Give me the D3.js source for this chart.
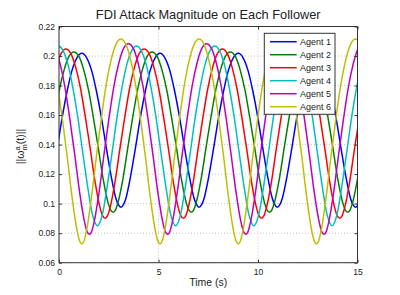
<!DOCTYPE html>
<meta charset="utf-8">
<style>
  body { margin: 0; background: #fff; }
  text { font-family: "Liberation Sans", Arial, sans-serif; fill: #222; }
</style>

<!-- Load d3.js -->
<script src="https://d3js.org/d3.v7.min.js"></script>

<div id="my_dataviz"></div>

<script>
// series names and colours (MATLAB default line order)
var agents = ["Agent 1", "Agent 2", "Agent 3", "Agent 4", "Agent 5", "Agent 6"];
var colors = ["#0000ff", "#008000", "#ff0000", "#00bfbf", "#bf00bf", "#bfbf00"];

var xTicks = [0, 5, 10, 15];
var yTicks = [0.06, 0.08, 0.1, 0.12, 0.14, 0.16, 0.18, 0.2, 0.22];
var yTickLabels = ["0.06", "0.08", "0.1", "0.12", "0.14", "0.16", "0.18", "0.2", "0.22"];

// [time (s), magnitude]
var agent1 = [[-0.33,.1187],[-0.08,.1384],[0.16,.1585],[0.41,.1763],[0.65,.1901],[0.90,.1988],[1.15,.2018],
  [1.39,.1988],[1.64,.1901],[1.88,.1763],[2.13,.1585],[2.37,.1384],[2.62,.1187],[2.86,.1035],[2.99,.0991],[3.11,.0976],[3.23,.0991],[3.36,.1035],[3.60,.1187],[3.85,.1384],[4.09,.1585],[4.34,.1763],[4.58,.1901],[4.83,.1988],[5.08,.2018],
  [5.32,.1988],[5.57,.1901],[5.81,.1763],[6.06,.1585],[6.30,.1384],[6.55,.1187],[6.79,.1035],[6.92,.0991],[7.04,.0976],[7.16,.0991],[7.29,.1035],[7.53,.1187],[7.78,.1384],[8.02,.1585],[8.27,.1763],[8.51,.1901],[8.76,.1988],[9.01,.2018],
  [9.25,.1988],[9.50,.1901],[9.74,.1763],[9.99,.1585],[10.23,.1384],[10.48,.1187],[10.72,.1035],[10.85,.0991],[10.97,.0976],[11.09,.0991],[11.22,.1035],[11.46,.1187],[11.71,.1384],[11.95,.1585],[12.20,.1763],[12.44,.1901],[12.69,.1988],[12.94,.2018],
  [13.18,.1988],[13.43,.1901],[13.67,.1763],[13.92,.1585],[14.16,.1384],[14.41,.1187],[14.65,.1035],[14.78,.0991],[14.90,.0976],[15.02,.0991],[15.15,.1035],[15.39,.1187]];

var agent2 = [[-0.48,.1372],[-0.23,.1581],[0.01,.1766],[0.26,.1908],[0.50,.1998],[0.75,.2028],
  [1.00,.1998],[1.24,.1908],[1.49,.1766],[1.73,.1581],[1.98,.1372],[2.22,.1166],[2.47,.1005],[2.59,.0958],[2.72,.0942],[2.84,.0958],[2.96,.1005],[3.21,.1166],[3.45,.1372],[3.70,.1581],[3.94,.1766],[4.19,.1908],[4.43,.1998],[4.68,.2028],
  [4.93,.1998],[5.17,.1908],[5.42,.1766],[5.66,.1581],[5.91,.1372],[6.15,.1166],[6.40,.1005],[6.52,.0958],[6.65,.0942],[6.77,.0958],[6.89,.1005],[7.14,.1166],[7.38,.1372],[7.63,.1581],[7.87,.1766],[8.12,.1908],[8.36,.1998],[8.61,.2028],
  [8.86,.1998],[9.10,.1908],[9.35,.1766],[9.59,.1581],[9.84,.1372],[10.08,.1166],[10.33,.1005],[10.45,.0958],[10.58,.0942],[10.70,.0958],[10.82,.1005],[11.07,.1166],[11.31,.1372],[11.56,.1581],[11.80,.1766],[12.05,.1908],[12.29,.1998],[12.54,.2028],
  [12.79,.1998],[13.03,.1908],[13.28,.1766],[13.52,.1581],[13.77,.1372],[14.01,.1166],[14.26,.1005],[14.38,.0958],[14.51,.0942],[14.63,.0958],[14.75,.1005],[15.00,.1166],[15.24,.1372]];

var agent3 = [[-0.39,.1775],[-0.14,.1923],[0.10,.2016],[0.35,.2048],
  [0.60,.2016],[0.84,.1923],[1.09,.1775],[1.33,.1582],[1.58,.1362],[1.82,.1143],[2.07,.0970],[2.19,.0919],[2.32,.0901],[2.44,.0919],[2.56,.0970],[2.81,.1143],[3.05,.1362],[3.30,.1582],[3.54,.1775],[3.79,.1923],[4.03,.2016],[4.28,.2048],
  [4.53,.2016],[4.77,.1923],[5.02,.1775],[5.26,.1582],[5.51,.1362],[5.75,.1143],[6.00,.0970],[6.12,.0919],[6.25,.0901],[6.37,.0919],[6.49,.0970],[6.74,.1143],[6.98,.1362],[7.23,.1582],[7.47,.1775],[7.72,.1923],[7.96,.2016],[8.21,.2048],
  [8.46,.2016],[8.70,.1923],[8.95,.1775],[9.19,.1582],[9.44,.1362],[9.68,.1143],[9.93,.0970],[10.05,.0919],[10.18,.0901],[10.30,.0919],[10.42,.0970],[10.67,.1143],[10.91,.1362],[11.16,.1582],[11.40,.1775],[11.65,.1923],[11.89,.2016],[12.14,.2048],
  [12.39,.2016],[12.63,.1923],[12.88,.1775],[13.12,.1582],[13.37,.1362],[13.61,.1143],[13.86,.0970],[13.98,.0919],[14.11,.0901],[14.23,.0919],[14.35,.0970],[14.60,.1143],[14.84,.1362],[15.09,.1582],[15.33,.1775]];

var agent4 = [[-0.53,.1938],[-0.28,.2035],[-0.04,.2068],
  [0.21,.2035],[0.46,.1938],[0.70,.1783],[0.95,.1581],[1.19,.1349],[1.44,.1116],[1.68,.0927],[1.81,.0871],[1.93,.0851],[2.05,.0871],[2.18,.0927],[2.42,.1116],[2.67,.1349],[2.91,.1581],[3.16,.1783],[3.40,.1938],[3.65,.2035],[3.90,.2068],
  [4.14,.2035],[4.39,.1938],[4.63,.1783],[4.88,.1581],[5.12,.1349],[5.37,.1116],[5.61,.0927],[5.74,.0871],[5.86,.0851],[5.98,.0871],[6.11,.0927],[6.35,.1116],[6.60,.1349],[6.84,.1581],[7.09,.1783],[7.33,.1938],[7.58,.2035],[7.83,.2068],
  [8.07,.2035],[8.32,.1938],[8.56,.1783],[8.81,.1581],[9.05,.1349],[9.30,.1116],[9.54,.0927],[9.67,.0871],[9.79,.0851],[9.91,.0871],[10.04,.0927],[10.28,.1116],[10.53,.1349],[10.77,.1581],[11.02,.1783],[11.26,.1938],[11.51,.2035],[11.76,.2068],
  [12.00,.2035],[12.25,.1938],[12.49,.1783],[12.74,.1581],[12.98,.1349],[13.23,.1116],[13.47,.0927],[13.60,.0871],[13.72,.0851],[13.84,.0871],[13.97,.0927],[14.21,.1116],[14.46,.1349],[14.70,.1581],[14.95,.1783],[15.19,.1938]];

var agent5 = [[-0.69,.2050],[-0.44,.2084],
  [-0.19,.2050],[0.05,.1949],[0.30,.1788],[0.54,.1577],[0.79,.1332],[1.03,.1083],[1.28,.0878],[1.40,.0815],[1.53,.0793],[1.65,.0815],[1.77,.0878],[2.02,.1083],[2.26,.1332],[2.51,.1577],[2.75,.1788],[3.00,.1949],[3.24,.2050],[3.49,.2084],
  [3.74,.2050],[3.98,.1949],[4.23,.1788],[4.47,.1577],[4.72,.1332],[4.96,.1083],[5.21,.0878],[5.33,.0815],[5.46,.0793],[5.58,.0815],[5.70,.0878],[5.95,.1083],[6.19,.1332],[6.44,.1577],[6.68,.1788],[6.93,.1949],[7.17,.2050],[7.42,.2084],
  [7.67,.2050],[7.91,.1949],[8.16,.1788],[8.40,.1577],[8.65,.1332],[8.89,.1083],[9.14,.0878],[9.26,.0815],[9.39,.0793],[9.51,.0815],[9.63,.0878],[9.88,.1083],[10.12,.1332],[10.37,.1577],[10.61,.1788],[10.86,.1949],[11.10,.2050],[11.35,.2084],
  [11.60,.2050],[11.84,.1949],[12.09,.1788],[12.33,.1577],[12.58,.1332],[12.82,.1083],[13.07,.0878],[13.19,.0815],[13.32,.0793],[13.44,.0815],[13.56,.0878],[13.81,.1083],[14.05,.1332],[14.30,.1577],[14.54,.1788],[14.79,.1949],[15.03,.2050],[15.28,.2084]];

var agent6 = [[-1.07,.2079],[-0.82,.2115],
  [-0.57,.2079],[-0.33,.1974],[-0.08,.1804],[0.16,.1581],[0.41,.1321],[0.65,.1052],[0.90,.0824],[1.02,.0753],[1.15,.0727],[1.27,.0753],[1.39,.0824],[1.64,.1052],[1.88,.1321],[2.13,.1581],[2.37,.1804],[2.62,.1974],[2.86,.2079],[3.11,.2115],
  [3.36,.2079],[3.60,.1974],[3.85,.1804],[4.09,.1581],[4.34,.1321],[4.58,.1052],[4.83,.0824],[4.95,.0753],[5.08,.0727],[5.20,.0753],[5.32,.0824],[5.57,.1052],[5.81,.1321],[6.06,.1581],[6.30,.1804],[6.55,.1974],[6.79,.2079],[7.04,.2115],
  [7.29,.2079],[7.53,.1974],[7.78,.1804],[8.02,.1581],[8.27,.1321],[8.51,.1052],[8.76,.0824],[8.88,.0753],[9.01,.0727],[9.13,.0753],[9.25,.0824],[9.50,.1052],[9.74,.1321],[9.99,.1581],[10.23,.1804],[10.48,.1974],[10.72,.2079],[10.97,.2115],
  [11.22,.2079],[11.46,.1974],[11.71,.1804],[11.95,.1581],[12.20,.1321],[12.44,.1052],[12.69,.0824],[12.81,.0753],[12.94,.0727],[13.06,.0753],[13.18,.0824],[13.43,.1052],[13.67,.1321],[13.92,.1581],[14.16,.1804],[14.41,.1974],[14.65,.2079],[14.90,.2115],[15.15,.2079]];

var series = [agent1, agent2, agent3, agent4, agent5, agent6];

// set the dimensions and margins of the graph
var margin = {top: 26.5, right: 42.5, bottom: 32.3, left: 59},
    width = 400 - margin.left - margin.right,
    height = 295 - margin.top - margin.bottom;

var root = d3.select("#my_dataviz")
  .append("svg")
    .attr("width", 400)
    .attr("height", 295);

var svg = root.append("g")
    .attr("transform", "translate(" + margin.left + "," + margin.top + ")");

var x = d3.scaleLinear().domain([0, 15]).range([0, width]);
var y = d3.scaleLinear().domain([0.06, 0.22]).range([height, 0]);

// dotted grid
svg.append("g").selectAll("line")
  .data(xTicks)
  .enter().append("line")
    .attr("x1", function(d) { return x(d); })
    .attr("x2", function(d) { return x(d); })
    .attr("y1", 0).attr("y2", height)
    .attr("stroke", "#c8c8c8").attr("stroke-dasharray", "1,2");
svg.append("g").selectAll("line")
  .data(yTicks)
  .enter().append("line")
    .attr("y1", function(d) { return y(d); })
    .attr("y2", function(d) { return y(d); })
    .attr("x1", 0).attr("x2", width)
    .attr("stroke", "#c8c8c8").attr("stroke-dasharray", "1,2");

// lines
svg.append("clipPath").attr("id", "clip")
  .append("rect").attr("width", width).attr("height", height);

var line = d3.line()
  .x(function(d) { return x(d[0]); })
  .y(function(d) { return y(d[1]); })
  .curve(d3.curveMonotoneX);

svg.append("g").attr("clip-path", "url(#clip)")
  .selectAll("path")
  .data(series)
  .enter().append("path")
    .attr("d", line)
    .attr("fill", "none")
    .attr("stroke", function(d, i) { return colors[i]; })
    .attr("stroke-width", 1.5);

// axes, ticks pointing inward
function styleAxis(g) {
  g.select(".domain").remove();
  g.selectAll(".tick line").attr("stroke", "#333");
  g.selectAll("text").style("font-size", "8.5px").attr("fill", "#222");
}
svg.append("g")
  .attr("transform", "translate(0," + height + ")")
  .call(d3.axisBottom(x).tickValues(xTicks).tickSize(-3).tickPadding(6))
  .call(styleAxis);
svg.append("g")
  .call(d3.axisTop(x).tickValues(xTicks).tickSize(-3).tickFormat(""))
  .call(styleAxis);
svg.append("g")
  .call(d3.axisLeft(y).tickValues(yTicks).tickSize(-3).tickPadding(4)
    .tickFormat(function(d, i) { return yTickLabels[i]; }))
  .call(styleAxis);
svg.append("g")
  .attr("transform", "translate(" + width + ",0)")
  .call(d3.axisRight(y).tickValues(yTicks).tickSize(-3).tickFormat(""))
  .call(styleAxis);

svg.append("rect")
  .attr("width", width).attr("height", height)
  .attr("fill", "none").attr("stroke", "#333").attr("stroke-width", 1);

// title and labels
root.append("text")
  .attr("x", margin.left + width / 2).attr("y", 19.3)
  .attr("text-anchor", "middle")
  .style("font-size", "12.8px")
  .text("FDI Attack Magnitude on Each Follower");

root.append("text")
  .attr("x", margin.left + width / 2).attr("y", 285.5)
  .attr("text-anchor", "middle")
  .style("font-size", "10.5px")
  .text("Time (s)");

var ylab = root.append("text")
  .attr("transform", "translate(23.5,146.5) rotate(-90)")
  .attr("text-anchor", "middle")
  .style("font-size", "10.5px");
ylab.append("tspan").text("||\u03c9");
ylab.append("tspan").attr("dy", -4).style("font-size", "7.5px").text("a");
ylab.append("tspan").attr("dx", -4.2).attr("dy", 7).style("font-size", "7.5px").text("m");
ylab.append("tspan").attr("dy", -3).text("(t)||");

// legend
var legend = svg.append("g")
  .attr("transform", "translate(" + (264.3 - margin.left) + "," + (33.3 - margin.top) + ")");
legend.append("rect")
  .attr("width", 70.7).attr("height", 81)
  .attr("fill", "#fff").attr("stroke", "#333").attr("stroke-width", 1);
var item = legend.selectAll(".item")
  .data(agents)
  .enter().append("g")
    .attr("transform", function(d, i) { return "translate(0," + (8.4 + i * 13) + ")"; });
item.append("line")
  .attr("x1", 5.7).attr("x2", 32.4)
  .attr("stroke", function(d, i) { return colors[i]; })
  .attr("stroke-width", 1.5);
item.append("text")
  .attr("x", 35.7).attr("dy", "0.35em")
  .style("font-size", "9px")
  .text(function(d) { return d; });
</script>
